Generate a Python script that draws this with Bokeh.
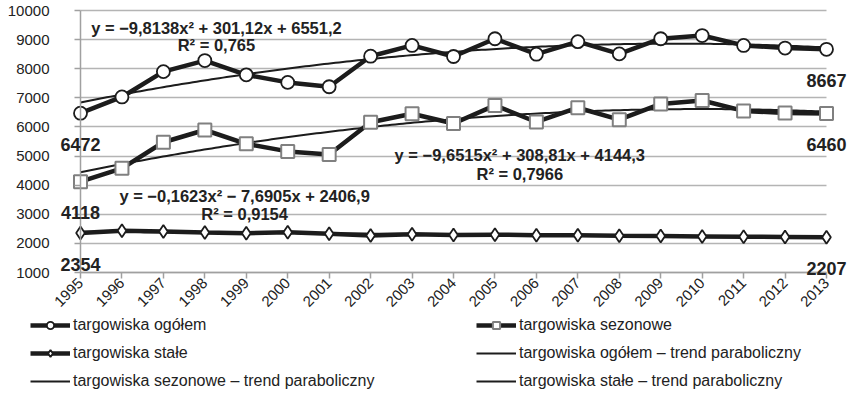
import math
import numpy as np
from bokeh.plotting import figure
from bokeh.models import Legend, LegendItem, Label, FixedTicker, Range1d
from bokeh.embed import file_html
from bokeh.resources import INLINE

# ---- data ----
years = list(range(1995, 2014))
ogolem = [6472, 7030, 7900, 8280, 7790, 7530, 7380, 8430, 8800, 8420,
          9030, 8500, 8930, 8510, 9030, 9140, 8800, 8710, 8667]
sezonowe = [4118, 4580, 5475, 5895, 5420, 5160, 5050, 6160, 6455, 6120,
            6740, 6170, 6660, 6250, 6790, 6910, 6550, 6480, 6460]
stale = [2354, 2430, 2410, 2370, 2350, 2380, 2330, 2270, 2310, 2290,
         2300, 2280, 2280, 2260, 2250, 2240, 2230, 2220, 2207]

# trend coefficients (a, b, c) of y = a x^2 + b x + c, x = 1..19
trend_ogolem = [-9.8138, 301.12, 6551.2]
trend_sezonowe = [-9.6515, 308.81, 4144.3]
trend_stale = [-0.1623, -7.6905, 2406.9]

eq_texts = ["y = \u22129,8138x\u00b2 + 301,12x + 6551,2", "R\u00b2 = 0,765",
            "y = \u22129,6515x\u00b2 + 308,81x + 4144,3", "R\u00b2 = 0,7966",
            "y = \u22120,1623x\u00b2 \u2212 7,6905x + 2406,9", "R\u00b2 = 0,9154"]

legend_labels = ["targowiska og\u00f3\u0142em", "targowiska sezonowe",
                 "targowiska sta\u0142e", "targowiska og\u00f3\u0142em \u2013 trend paraboliczny",
                 "targowiska sezonowe \u2013 trend paraboliczny", "targowiska sta\u0142e \u2013 trend paraboliczny"]

y_ticks = list(range(1000, 10001, 1000))

# ---- layout (screen) ----
W, H = 848, 391
X0, X1 = 80, 826          # screen x of 1995 and 2013
YT, YB = 10, 272          # screen y of 10000 and 1000
ppy = (X1 - X0) / (years[-1] - years[0])
ppv = (YB - YT) / (y_ticks[-1] - y_ticks[0])
x_start = years[0] - X0 / ppy
x_end = years[-1] + (W - X1) / ppy
y_end = y_ticks[-1] + YT / ppv
y_start = y_ticks[0] - (H - YB) / ppv

DARK = "#1c1c1c"
FONT = "Liberation Sans"

p = figure(width=W, height=H, output_backend="svg", toolbar_location=None,
           x_range=Range1d(x_start, x_end), y_range=Range1d(y_start, y_end),
           min_border=0)
p.outline_line_color = None
p.background_fill_color = "white"
p.border_fill_color = "white"

p.xaxis.ticker = FixedTicker(ticks=years)
p.xaxis.major_label_orientation = math.pi / 4
p.xaxis.fixed_location = y_ticks[0]
p.xaxis.bounds = (years[0], years[-1])
p.yaxis.ticker = FixedTicker(ticks=y_ticks)
p.yaxis.fixed_location = years[0]
p.yaxis.bounds = (y_ticks[0], y_ticks[-1])
for ax in (p.xaxis, p.yaxis):
    ax.minor_tick_line_color = None
    ax.major_tick_in = 0
    ax.major_tick_out = 6
    ax.axis_line_color = "#a0a0a0"
    ax.axis_line_width = 1.5
    ax.major_tick_line_color = "#a0a0a0"
    ax.major_tick_line_width = 1.5
    ax.major_label_text_font = FONT
    ax.major_label_text_font_size = "15px"
    ax.major_label_text_color = "#222222"
p.xaxis.major_label_standoff = 2
p.yaxis.major_label_standoff = 25
p.xgrid.grid_line_color = None
p.ygrid.ticker = FixedTicker(ticks=y_ticks)
p.ygrid.grid_line_color = "#b4b4b4"
p.ygrid.grid_line_width = 1.5
p.ygrid.cross_bounds = (years[0], years[-1])

xt = np.linspace(1, 19, 200)
xs = 1994 + xt

def trend(coef):
    a, b, c = coef
    return a * xt ** 2 + b * xt + c

l_og = p.line(years, ogolem, line_color=DARK, line_width=4.5)
l_sez = p.line(years, sezonowe, line_color=DARK, line_width=4.5)
l_st = p.line(years, stale, line_color=DARK, line_width=4.5)

t_og = p.line(xs, trend(trend_ogolem), line_color=DARK, line_width=2)
t_sez = p.line(xs, trend(trend_sezonowe), line_color=DARK, line_width=2)
t_st = p.line(xs, trend(trend_stale), line_color=DARK, line_width=2)

m_og = p.scatter(years, ogolem, marker="circle", size=13, fill_color="white",
                 line_color=DARK, line_width=1.8)
m_sez = p.scatter(years, sezonowe, marker="square", size=13, fill_color="white",
                  line_color="#808080", line_width=2)
m_st = p.scatter(years, stale, marker="diamond", size=13, fill_color="white",
                 line_color=DARK, line_width=1.8)

items = [
    LegendItem(label=legend_labels[0], renderers=[l_og, m_og]),
    LegendItem(label=legend_labels[1], renderers=[l_sez, m_sez]),
    LegendItem(label=legend_labels[2], renderers=[l_st, m_st]),
    LegendItem(label=legend_labels[3], renderers=[t_og]),
    LegendItem(label=legend_labels[4], renderers=[t_sez]),
    LegendItem(label=legend_labels[5], renderers=[t_st]),
]
legend = Legend(items=items, location=(30, 1), orientation="horizontal", ncols=2,
                glyph_width=40, glyph_height=18, label_height=18, label_width=393,
                label_standoff=3, spacing=10, padding=0, margin=0,
                border_line_color=None, background_fill_alpha=0,
                label_text_font=FONT, label_text_font_size="16px",
                label_text_color="#222222")
p.add_layout(legend)

# value labels at the first and last points
for yr, v in [(years[0], ogolem[0]), (years[0], sezonowe[0]), (years[0], stale[0]),
              (years[-1], ogolem[-1]), (years[-1], sezonowe[-1]), (years[-1], stale[-1])]:
    p.add_layout(Label(x=yr, y=v, y_offset=-31, text=str(v), text_align="center",
                       text_baseline="alphabetic", text_font=FONT, text_font_style="bold",
                       text_font_size="18px", text_color="#222222"))

# equation labels
eq_pos = [(1998.28, 9413), (1998.28, 8825), (2005.6, 5043), (2005.6, 4383),
          (1998.96, 3639), (1998.96, 3020)]
for (ex, ey), txt in zip(eq_pos, eq_texts):
    p.add_layout(Label(x=ex, y=ey, text=txt, text_align="center", text_baseline="alphabetic",
                       text_font=FONT, text_font_style="bold", text_font_size="16.5px",
                       text_color="#222222"))

open("out.html", "w").write(file_html(p, INLINE))
